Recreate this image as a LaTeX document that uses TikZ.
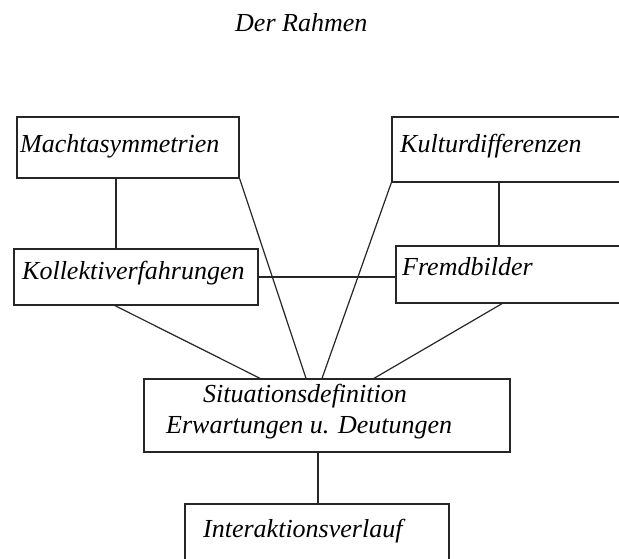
\documentclass[tikz,border=0pt]{standalone}
\usepackage{fontspec}
\setmainfont{Liberation Serif}
\begin{document}
\begin{tikzpicture}[x=1pt,y=-1pt,
  box/.style={draw=black!85,line width=1.3pt,inner sep=0pt},
  lab/.style={anchor=base west,inner sep=0pt,font=\fontsize{26}{30}\selectfont\itshape},
  conn/.style={draw=black!85,line width=1.2pt}]
\useasboundingbox[fill=white] (0,0) rectangle (619,559);
% boxes
\node[box,minimum width=222pt,minimum height=61pt] (macht) at (128,147.5) {};
\node[box,minimum width=238pt,minimum height=65pt] (kultur) at (511,149.5) {};
\node[box,minimum width=244pt,minimum height=56pt] (koll) at (136,277) {};
\node[box,minimum width=234pt,minimum height=57pt] (fremd) at (513,274.5) {};
\node[box,minimum width=366pt,minimum height=73pt] (situ) at (327,415.5) {};
\node[box,minimum width=264pt,minimum height=96pt] (inter) at (317,552) {};
% texts
\node[lab] (title) at (235,32) {Der Rahmen};
\node[lab] (tmacht) at (20,153) {Machtasymmetrien};
\node[lab] (tkultur) at (400,153) {Kulturdifferenzen};
\node[lab] (tkoll) at (22,279) {Kollektiverfahrungen};
\node[lab] (tfremd) at (402,275) {Fremdbilder};
\node[lab] (tsitu) at (203,402) {Situationsdefinition};
\node[lab] (tsitub) at (166,433) {Erwartungen u. Deutungen};
\node[lab] (tinter) at (203,537) {Interaktionsverlauf};
% helper coordinates
\coordinate (xa) at (116,0);
\coordinate (xb) at (499,0);
\coordinate (xc) at (115,0);
\coordinate (xd) at (502,0);
\coordinate (s1) at (260,0);
\coordinate (s2) at (306,0);
\coordinate (s3) at (322,0);
\coordinate (s4) at (374,0);
\coordinate (xe) at (318,0);
% connectors
\draw[conn] (macht.south -| xa) -- (koll.north -| xa);
\draw[conn] (kultur.south -| xb) -- (fremd.north -| xb);
\draw[conn] (koll.east) -- (koll.east -| fremd.west);
\draw[conn] (koll.south -| xc) -- (situ.north -| s1);
\draw[conn] (macht.south east) -- (situ.north -| s2);
\draw[conn] (kultur.south west) -- (situ.north -| s3);
\draw[conn] (fremd.south -| xd) -- (situ.north -| s4);
\draw[conn] (situ.south -| xe) -- (inter.north -| xe);
\end{tikzpicture}
\end{document}
